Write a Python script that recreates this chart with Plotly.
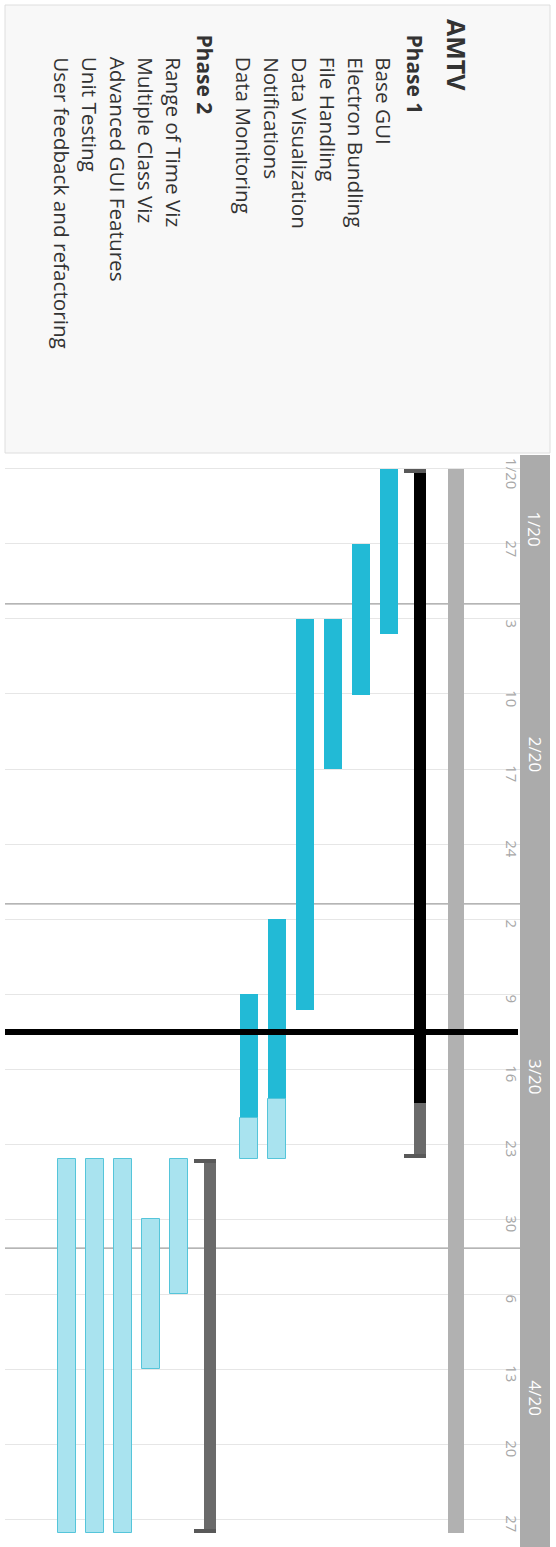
import pandas as pd
import plotly.graph_objects as go

W, H = 556, 1547

# ---------------- data ----------------
tasks = ["AMTV", "Phase 1", "Base GUI", "Electron Bundling", "File Handling",
         "Data Visualization", "Notifications", "Data Monitoring", "Phase 2",
         "Range of Time Viz", "Multiple Class Viz", "Advanced GUI Features",
         "Unit Testing", "User feedback and refactoring"]
levels = [0, 1, 2, 2, 2, 2, 2, 2, 1, 2, 2, 2, 2, 2]
starts = ["2020-01-20 00:00", "2020-01-20 00:00", "2020-01-20 00:00", "2020-01-27 00:00",
          "2020-02-03 00:00", "2020-02-03 00:00", "2020-03-02 00:00", "2020-03-09 00:00",
          "2020-03-24 10:00", "2020-03-24 10:00", "2020-03-30 00:00", "2020-03-24 10:00",
          "2020-03-24 10:00", "2020-03-24 10:00"]
ends = ["2020-04-28 08:00", "2020-03-24 08:00", "2020-02-04 10:00", "2020-02-10 02:00",
        "2020-02-17 00:00", "2020-03-10 12:00", "2020-03-24 10:00", "2020-03-24 10:00",
        "2020-04-28 08:00", "2020-04-06 00:00", "2020-04-13 00:00", "2020-04-28 08:00",
        "2020-04-28 08:00", "2020-04-28 08:00"]
done_until = [None, "2020-03-19 05:00", "2020-02-04 10:00", "2020-02-10 02:00",
              "2020-02-17 00:00", "2020-03-10 12:00", "2020-03-18 19:00", "2020-03-20 14:00",
              "2020-03-24 10:00", "2020-03-24 10:00", "2020-03-30 00:00", "2020-03-24 10:00",
              "2020-03-24 10:00", "2020-03-24 10:00"]

tick_dates = ["2020-01-20", "2020-01-27", "2020-02-03", "2020-02-10", "2020-02-17",
              "2020-02-24", "2020-03-02", "2020-03-09", "2020-03-16", "2020-03-23",
              "2020-03-30", "2020-04-06", "2020-04-13", "2020-04-20", "2020-04-27"]
tick_labels = ["1/20", "27", "3", "10", "17", "24", "2", "9", "16", "23", "30",
               "6", "13", "20", "27"]
month_labels = ["1/20", "2/20", "3/20", "4/20"]
month_lines = ["2020-02-01 14:00", "2020-02-29 14:00", "2020-04-01 17:00"]
today = "2020-03-12 13:00"
view = ["2020-01-18 12:15", "2020-04-29 14:30"]

# ---------------- styles ----------------
FONT = "Open Sans"
C_DONE = "#22bad6"
C_TODO = "#a9e3ef"
C_TODO_LINE = "#55c5da"
C_PROJ = "#b1b1b1"
C_PH_DONE = "#000000"
C_PH_TODO = "#6a6a6a"
C_BAND = "#ababab"

# row positions (row units; the x axis is reversed so the first row is at the right)
pos = []
for i, lv in enumerate(levels):
    if i == 0:
        pos.append(0.0)
    else:
        if lv == 1:
            gap = 1.3 if levels[i - 1] == 0 else 1.4
        elif levels[i - 1] == 1:
            gap = 1.1
        else:
            gap = 1.0
        pos.append(pos[-1] + gap)

ts = lambda s: pd.Timestamp(s)
ms = lambda a, b: (ts(b) - ts(a)).total_seconds() * 1000.0

fig = go.Figure()


def add_bars(xs, bases, durs, width, color, line_color=None, line_width=0):
    if not xs:
        return
    fig.add_trace(go.Bar(
        x=xs, y=durs, base=bases, width=width,
        marker=dict(color=color, line=dict(color=line_color or color, width=line_width)),
        hoverinfo="skip", showlegend=False))


# project bar
p_idx = [i for i, lv in enumerate(levels) if lv == 0]
add_bars([pos[i] for i in p_idx], [starts[i] for i in p_idx],
         [ms(starts[i], ends[i]) for i in p_idx], 0.54, C_PROJ)

# phase brackets
ph = [i for i, lv in enumerate(levels) if lv == 1]
TICK_DAYS = 0.37
for i in ph:
    d = done_until[i]
    if d is not None and ts(d) > ts(starts[i]):
        add_bars([pos[i]], [starts[i]], [ms(starts[i], d)], 0.43, C_PH_DONE)
        rest_start = d
    else:
        rest_start = starts[i]
    add_bars([pos[i]], [rest_start], [ms(rest_start, ends[i])], 0.43, C_PH_TODO)
    tick_ms = TICK_DAYS * 86400000
    top_base = starts[i]
    bot_base = str(ts(ends[i]) - pd.Timedelta(days=TICK_DAYS))
    add_bars([pos[i] + 0.175, pos[i] + 0.175], [top_base, bot_base],
             [tick_ms, tick_ms], 0.78, "#595959")

# tasks
tk = [i for i, lv in enumerate(levels) if lv == 2]
dx, db, dd = [], [], []
tx, tb, tdur = [], [], []
for i in tk:
    d = done_until[i]
    if ts(d) > ts(starts[i]):
        dx.append(pos[i]); db.append(starts[i]); dd.append(ms(starts[i], d))
    if ts(ends[i]) > ts(d):
        tx.append(pos[i]); tb.append(d); tdur.append(ms(d, ends[i]))
add_bars(dx, db, dd, 0.66, C_DONE)
add_bars(tx, tb, tdur, 0.64, C_TODO, C_TODO_LINE, 1)

# ---------------- layout ----------------
x_left_px, x_right_px = 5, 520
top_px = 453
ydom_top = 1 - top_px / H
px_per_unit = 28.0
row0_px = 456.0
xr = [(row0_px - x_left_px) / px_per_unit, (row0_px - x_right_px) / px_per_unit]

shapes = []
# header panel
shapes.append(dict(type="rect", xref="paper", yref="paper",
                   x0=5 / W, x1=550 / W, y0=ydom_top, y1=1 - 5 / H,
                   fillcolor="#f8f8f8", line=dict(color="#dedede", width=1), layer="below"))
# month band
shapes.append(dict(type="rect", xref="paper", yref="paper",
                   x0=x_right_px / W, x1=550 / W, y0=0, y1=1 - 455 / H,
                   fillcolor=C_BAND, line=dict(width=0), layer="above"))
# month boundaries
for m in month_lines:
    shapes.append(dict(type="line", xref="paper", yref="y",
                       x0=x_left_px / W, x1=x_right_px / W, y0=m, y1=m,
                       line=dict(color="#9c9c9c", width=1.3), layer="between"))
# today line
shapes.append(dict(type="line", xref="paper", yref="y",
                   x0=x_left_px / W, x1=518 / W, y0=today, y1=today,
                   line=dict(color="#000000", width=6), layer="above"))

annotations = []
# row labels
top_by_level = {0: 17, 1: 32, 2: 55}
size_by_level = {0: 25, 1: 21, 2: 20.7}
shift_by_level = {0: 1, 1: -5, 2: -5}
for i, name in enumerate(tasks):
    lv = levels[i]
    txt = f"<b>{name}</b>" if lv < 2 else name
    annotations.append(dict(
        x=pos[i], xref="x", y=1 - top_by_level[lv] / H, yref="paper",
        text=txt, textangle=90, showarrow=False, xanchor="center", yanchor="top",
        xshift=shift_by_level[lv],
        font=dict(family=FONT, size=size_by_level[lv], color="#333333")))

# month labels centred on the visible part of each month
bounds = [view[0]] + month_lines + [view[1]]
for k, lab in enumerate(month_labels):
    a, b = ts(bounds[k]), ts(bounds[k + 1])
    mid = a + (b - a) / 2
    annotations.append(dict(
        x=535 / W, xref="paper", y=str(mid), yref="y", text=lab, textangle=90,
        showarrow=False, xanchor="center", yanchor="middle",
        font=dict(family=FONT, size=17, color="#ffffff")))

fig.update_layout(
    width=W, height=H,
    margin=dict(l=0, r=0, t=0, b=0),
    paper_bgcolor="#ffffff", plot_bgcolor="#ffffff",
    barmode="overlay", bargap=0,
    showlegend=False,
    font=dict(family=FONT),
    shapes=shapes, annotations=annotations,
    xaxis=dict(domain=[x_left_px / W, x_right_px / W], range=xr,
               showgrid=False, zeroline=False, showticklabels=False, showline=False,
               fixedrange=True),
    yaxis=dict(domain=[0, ydom_top], type="date", range=[view[1], view[0]],
               anchor="free", position=527 / W,
               tickvals=tick_dates, ticktext=tick_labels,
               side="right", ticklabelposition="inside", tickangle=90,
               ticklabelshift=-7, ticklabelstandoff=0,
               tickfont=dict(family=FONT, size=15, color="#a8a8a8"),
               showgrid=True, gridcolor="#e6e6e6", gridwidth=1,
               zeroline=False, showline=False, ticks="", fixedrange=True),
)

fig.write_html("out.html")
